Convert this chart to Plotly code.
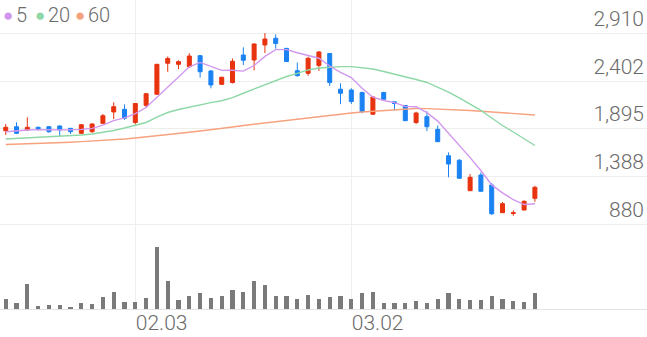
import plotly.graph_objects as go

# ---- data ----
idx = list(range(50))
tick_pos = [12, 32]
tick_text = ["02.03", "03.02"]

opens  = [1874, 1916, 1881, 1910, 1916, 1924, 1899, 1846, 1863, 1952,
          2073, 2101, 1961, 2142, 2262, 2591, 2580, 2555, 2672, 2509,
          2367, 2386, 2679, 2626, 2786, 2857, 2750, 2512, 2484, 2567,
          2695, 2315, 2307, 2280, 2049, 2280, 2181, 2142, 1961, 2023,
          1888, 1607, 1559, 1235, 1402, 1296, 1001, 993, 1030, 1154]
highs  = [1945, 1963, 2016, 1916, 1924, 1931, 1902, 1945, 1952, 2051,
          2176, 2154, 2165, 2275, 2582, 2663, 2623, 2697, 2679, 2520,
          2448, 2642, 2761, 2804, 2913, 2899, 2752, 2599, 2661, 2722,
          2697, 2378, 2325, 2289, 2243, 2289, 2183, 2147, 2076, 2080,
          1929, 1642, 1572, 1413, 1431, 1317, 1115, 1027, 1133, 1287]
lows   = [1828, 1838, 1874, 1874, 1852, 1810, 1838, 1838, 1852, 1945,
          1998, 1988, 1940, 2115, 2254, 2501, 2530, 2544, 2438, 2325,
          2363, 2376, 2573, 2516, 2700, 2746, 2605, 2448, 2459, 2509,
          2349, 2156, 2158, 2059, 2041, 2200, 2091, 1977, 1943, 1870,
          1755, 1378, 1365, 1234, 1227, 977, 1000, 968, 1025, 1118]
closes = [1910, 1846, 1910, 1895, 1863, 1881, 1863, 1937, 1945, 2033,
          2129, 2006, 2163, 2267, 2580, 2642, 2608, 2668, 2501, 2360,
          2442, 2612, 2623, 2796, 2849, 2802, 2610, 2459, 2644, 2711,
          2386, 2272, 2184, 2076, 2232, 2209, 2163, 1980, 2062, 1916,
          1757, 1519, 1367, 1378, 1229, 990, 1097, 1000, 1122, 1271]
volumes = [194000, 126000, 500000, 60000, 74000, 74000, 34000, 114000, 94000, 246000,
           334000, 134000, 146000, 226000, 1234000, 566000, 180000, 266000, 314000, 214000,
           260000, 380000, 346000, 554000, 486000, 260000, 260000, 200000, 280000, 206000,
           250000, 260000, 194000, 314000, 346000, 114000, 126000, 114000, 166000, 126000,
           194000, 314000, 194000, 180000, 180000, 260000, 194000, 166000, 146000, 326000]
ma5 = [1863, 1874, 1881, 1885, 1885, 1879, 1882, 1888, 1898, 1932,
       1981, 2010, 2055, 2120, 2229, 2332, 2452, 2553, 2600, 2556,
       2516, 2517, 2508, 2567, 2664, 2736, 2736, 2703, 2673, 2645,
       2562, 2494, 2439, 2326, 2230, 2195, 2173, 2132, 2129, 2066,
       1976, 1847, 1724, 1587, 1450, 1297, 1212, 1139, 1088, 1096]
ma20 = [1785, 1791, 1796, 1801, 1807, 1812, 1817, 1828, 1839, 1855,
        1876, 1902, 1929, 1961, 2019, 2067, 2099, 2126, 2152, 2172,
        2192, 2225, 2272, 2317, 2365, 2408, 2450, 2484, 2520, 2541,
        2551, 2555, 2555, 2546, 2530, 2504, 2477, 2445, 2418, 2387,
        2339, 2285, 2222, 2158, 2089, 2009, 1929, 1860, 1785, 1716]
ma60 = [1727, 1730, 1734, 1739, 1743, 1747, 1751, 1757, 1762, 1768,
        1775, 1785, 1796, 1807, 1817, 1830, 1844, 1857, 1871, 1883,
        1897, 1913, 1929, 1943, 1956, 1969, 1982, 1996, 2009, 2023,
        2035, 2049, 2062, 2072, 2080, 2088, 2094, 2102, 2110, 2108,
        2105, 2099, 2094, 2088, 2080, 2073, 2064, 2057, 2048, 2041]
price_ticks = [880, 1388, 1895, 2402, 2910]
price_tick_text = ["880", "1,388", "1,895", "2,402", "2,910"]
legend_names = ["5", "20", "60"]

UP = "#e8330f"
DOWN = "#1a82f2"
C5, C20, C60 = "#d197f0", "#8dd8a6", "#f7a27e"
TXT = "#6b6b6b"
FONT = "Roboto"

fig = go.Figure()

fig.add_trace(go.Bar(x=idx, y=volumes, width=0.4, marker=dict(color="#7a7a7a", line=dict(width=0)),
                     yaxis="y2", showlegend=False, hoverinfo="skip"))

for vals, col in [(ma60, C60), (ma20, C20), (ma5, C5)]:
    fig.add_trace(go.Scatter(x=idx, y=vals, mode="lines", line=dict(color=col, width=1.4),
                             showlegend=False, hoverinfo="skip"))

fig.add_trace(go.Candlestick(
    x=idx, open=opens, high=highs, low=lows, close=closes,
    increasing=dict(line=dict(color=UP, width=1), fillcolor=UP),
    decreasing=dict(line=dict(color=DOWN, width=1), fillcolor=DOWN),
    whiskerwidth=0, showlegend=False))

fig.update_layout(
    width=647, height=337,
    margin=dict(l=0, r=0, t=0, b=28),
    paper_bgcolor="white", plot_bgcolor="white",
    boxgap=0.47,
    showlegend=False,
    font=dict(family=FONT, color=TXT, size=20, weight=300),
    xaxis=dict(range=[-0.53, 59.38], tickmode="array", tickvals=tick_pos, ticktext=tick_text,
               ticklabelposition="outside right", ticklabelstandoff=-5,
               showgrid=True, gridcolor="#eeeeee", gridwidth=1,
               zeroline=False, showline=True, linecolor="#e3e3e3", linewidth=1, ticks="",
               rangeslider=dict(visible=False), fixedrange=True, automargin=False,
               tickfont=dict(size=21, color=TXT, family=FONT, weight=300)),
    yaxis=dict(range=[-23.5, 3264.3], side="right", tickmode="array", tickvals=price_ticks,
               ticktext=price_tick_text, ticklabelposition="inside top", showgrid=True,
               gridcolor="#eeeeee", gridwidth=1, zeroline=False, showline=False, ticks="",
               automargin=False,
               tickfont=dict(size=21, color=TXT, family=FONT, weight=300)),
    yaxis2=dict(range=[0, 6180000], overlaying="y", visible=False, showgrid=False),
    bargap=0,
)

# legend built from annotations
leg_x = [0.002, 0.051, 0.113]
for name, col, xp in zip(legend_names, [C5, C20, C60], leg_x):
    fig.add_annotation(xref="paper", yref="paper", x=xp, y=0.953, xanchor="left", yanchor="middle",
                       text=f"<span style='color:{col}'>●</span>", showarrow=False,
                       font=dict(size=17, family="DejaVu Sans"))
    fig.add_annotation(xref="paper", yref="paper", x=xp + 0.02, y=0.953, xanchor="left", yanchor="middle",
                       text=name, showarrow=False, font=dict(size=20, color=TXT, family=FONT, weight=300))

fig.write_html("out.html")
